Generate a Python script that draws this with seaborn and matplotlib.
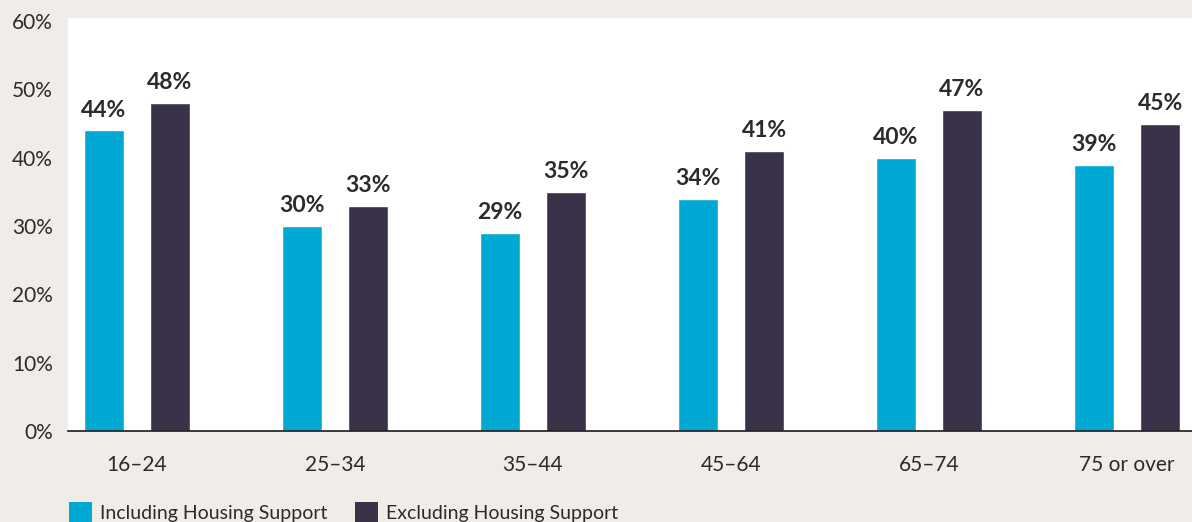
import matplotlib
matplotlib.use("Agg")
import matplotlib.pyplot as plt
import seaborn as sns
import pandas as pd
from matplotlib.patches import Patch

age_groups = ["16–24", "25–34", "35–44", "45–64", "65–74", "75 or over"]
including_support = [44, 30, 29, 34, 40, 39]
excluding_support = [48, 33, 35, 41, 47, 45]
series_names = ["Including Housing Support", "Excluding Housing Support"]
y_ticks = [0, 10, 20, 30, 40, 50, 60]

colors = ["#00A8D4", "#3A3248"]
bg = "#F0EDE8"
text_color = "#2B2B2B"

df = pd.DataFrame({
    "age": age_groups * 2,
    "value": including_support + excluding_support,
    "series": [series_names[0]] * len(age_groups) + [series_names[1]] * len(age_groups),
})

sns.set_theme(style="white")
plt.rcParams["font.family"] = ["Lato", "DejaVu Sans"]

W, H = 1192, 522
fig = plt.figure(figsize=(W / 100, H / 100), dpi=100, facecolor=bg)
ax = fig.add_axes([68 / W, 1 - 431 / H, 1 - 68 / W, (431 - 18) / H])
ax.set_facecolor("white")

sns.barplot(data=df, x="age", y="value", hue="series", hue_order=series_names,
            palette=colors, width=0.667, gap=0.39, saturation=1,
            legend=False, ax=ax)

for container in ax.containers:
    ax.bar_label(container, fmt="%d%%", padding=7, fontsize=16.5,
                 fontweight="bold", color=text_color)

ax.set_ylim(0, 60.45)
ax.set_xlim(-0.348, 5.328)
ax.set_yticks(y_ticks)
ax.set_yticklabels([f"{t}%" for t in y_ticks])
ax.set_xlabel("")
ax.set_ylabel("")
ax.tick_params(axis="y", length=0, pad=11, labelsize=15, labelcolor=text_color)
ax.tick_params(axis="x", length=0, pad=17, labelsize=15, labelcolor=text_color)

for side in ["top", "right", "left"]:
    ax.spines[side].set_visible(False)
ax.spines["bottom"].set_color("#1A1A1A")
ax.spines["bottom"].set_linewidth(1.2)

handles = [Patch(facecolor=c, edgecolor="none") for c in colors]
fig.legend(handles, series_names, loc="center left",
           bbox_to_anchor=(69 / W, 1 - 512 / H), ncol=2, frameon=False,
           fontsize=14, handlelength=1.18, handleheight=1.18,
           handletextpad=0.43, columnspacing=1.4, labelcolor=text_color,
           borderpad=0, borderaxespad=0)

fig.savefig("out.png", dpi=100, facecolor=bg)
